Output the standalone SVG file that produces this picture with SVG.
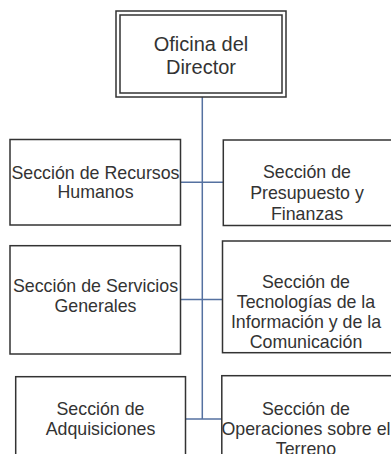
<svg xmlns="http://www.w3.org/2000/svg" width="391" height="454" viewBox="0 0 391 454">
<style>
.box{fill:#fff;stroke:#333;stroke-width:1.5}
.t{font-family:"Liberation Sans",Arial,sans-serif;font-size:17.8px;fill:#333;text-anchor:middle}
.tt{font-size:20px}
.c{stroke:#5571a0;stroke-width:1.5;fill:none}
</style>
<rect width="391" height="454" fill="#fff"/>
<g id="connectors">
<line class="c" x1="202.3" y1="97" x2="202.3" y2="419"/>
<line class="c" x1="180.5" y1="182.3" x2="223.3" y2="182.3"/>
<line class="c" x1="180.5" y1="299.5" x2="222.5" y2="299.5"/>
<line class="c" x1="185.5" y1="419" x2="221.8" y2="419"/>
</g>
<g id="director">
<rect class="box" x="116" y="11" width="170" height="86"/>
<rect class="box" x="120" y="15" width="162" height="78"/>
<text class="t tt" x="201" y="51">Oficina del</text>
<text class="t tt" x="201" y="74">Director</text>
</g>
<g id="rrhh">
<rect class="box" x="10" y="139.5" width="170.5" height="85.5"/>
<text class="t" x="95.5" y="179">Sección de Recursos</text>
<text class="t" x="95.5" y="198">Humanos</text>
</g>
<g id="presupuesto">
<rect class="box" x="223.3" y="140" width="180" height="85.5"/>
<text class="t" x="307" y="178">Sección de</text>
<text class="t" x="307" y="199">Presupuesto y</text>
<text class="t" x="307" y="220">Finanzas</text>
</g>
<g id="servicios">
<rect class="box" x="10" y="245.7" width="170.5" height="108.3"/>
<text class="t" x="95.5" y="291.5">Sección de Servicios</text>
<text class="t" x="95.5" y="311.5">Generales</text>
</g>
<g id="tic">
<rect class="box" x="222.5" y="241" width="180" height="111.7"/>
<text class="t" x="306" y="288">Sección de</text>
<text class="t" x="306" y="308">Tecnologías de la</text>
<text class="t" x="306" y="328">Información y de la</text>
<text class="t" x="306" y="348">Comunicación</text>
</g>
<g id="adquisiciones">
<rect class="box" x="15.7" y="376.7" width="169.8" height="90"/>
<text class="t" x="100.5" y="415">Sección de</text>
<text class="t" x="100.5" y="435">Adquisiciones</text>
</g>
<g id="operaciones">
<rect class="box" x="221.8" y="375.7" width="180" height="90"/>
<text class="t" x="306" y="415">Sección de</text>
<text class="t" x="306" y="435">Operaciones sobre el</text>
<text class="t" x="306" y="455">Terreno</text>
</g>
</svg>
